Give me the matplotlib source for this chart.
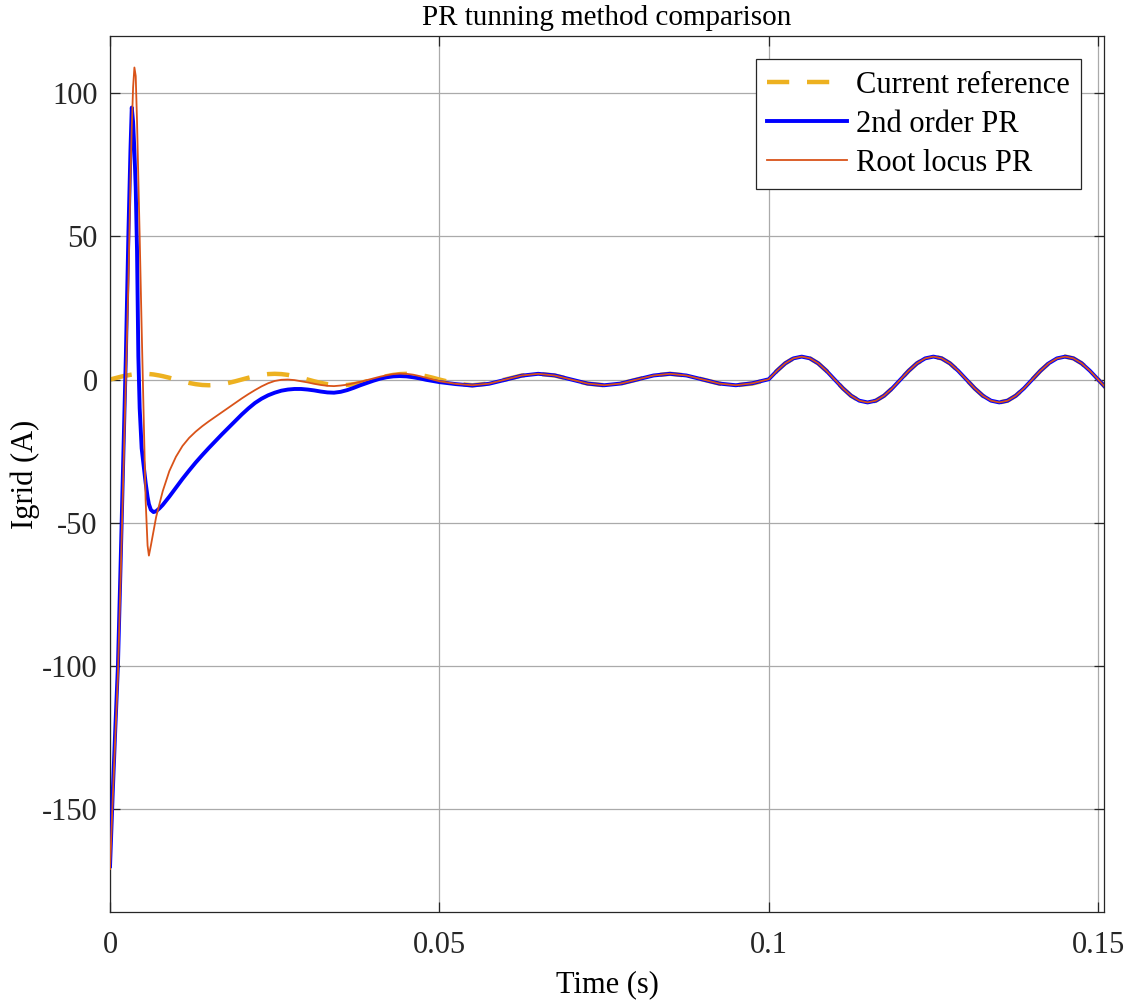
import matplotlib
matplotlib.use("Agg")
import matplotlib.pyplot as plt

# ---- data ----
time_transient = [0.0, 0.0004, 0.0008, 0.0012, 0.0016, 0.0020, 0.0024, 0.0028, 0.0031, 0.0033,
                  0.0035, 0.0037, 0.0039, 0.0041, 0.0043, 0.0045, 0.0048, 0.0051, 0.0054, 0.0057,
                  0.0059, 0.0062, 0.0066, 0.0070, 0.0075,
                  0.008, 0.009, 0.010, 0.011, 0.012, 0.013, 0.014, 0.015, 0.016, 0.017,
                  0.018, 0.019, 0.020, 0.021, 0.022, 0.023, 0.024, 0.025, 0.026, 0.027,
                  0.028, 0.029, 0.030, 0.031, 0.032, 0.033, 0.034, 0.035, 0.036, 0.037,
                  0.038, 0.039, 0.040, 0.041, 0.042, 0.043, 0.044, 0.045, 0.046, 0.047,
                  0.048, 0.049, 0.050]
ref_transient = [0.0, 0.25, 0.50, 0.74, 0.96, 1.18, 1.36, 1.53, 1.65, 1.72,
                 1.78, 1.84, 1.88, 1.92, 1.96, 1.98, 2.0, 2.0, 1.98, 1.96,
                 1.93, 1.87, 1.77, 1.62, 1.41,
                 1.18, 0.62, 0.0, -0.62, -1.18, -1.62, -1.90, -2.0, -1.90, -1.62,
                 -1.18, -0.62, 0.0, 0.62, 1.18, 1.62, 1.90, 2.0, 1.90, 1.62,
                 1.18, 0.62, 0.0, -0.62, -1.18, -1.62, -1.90, -2.0, -1.90, -1.62,
                 -1.18, -0.62, 0.0, 0.62, 1.18, 1.62, 1.90, 2.0, 1.90, 1.62,
                 1.18, 0.62, 0.0]
second_order_transient = [-170, -145, -122, -100, -65, -28, 8, 52, 80, 95,
                          90, 80, 67, 45, 8, -10, -24, -30, -36, -41,
                          -43.5, -45.5, -46.3, -46.0, -45.0,
                          -43.8, -40.9, -37.8, -34.7, -31.8, -29.0, -26.4, -23.9, -21.5, -19.1,
                          -16.8, -14.5, -12.2, -10.1, -8.2, -6.7, -5.5, -4.6, -3.9, -3.5,
                          -3.3, -3.3, -3.5, -3.8, -4.2, -4.5, -4.6, -4.3, -3.7, -2.9,
                          -2.0, -1.2, -0.4, 0.3, 0.8, 1.1, 1.2, 1.1, 0.8, 0.4,
                          -0.1, -0.5, -0.9]
root_locus_transient = [-171, -147, -125, -103, -70, -35, 0, 35, 70, 88,
                        102, 109, 106, 90, 70, 50, 18, -12, -42, -58,
                        -61.5, -58, -53, -48, -43.5,
                        -39, -32, -27, -23.2, -20.4, -18.2, -16.3, -14.6, -13.0, -11.4,
                        -9.8, -8.2, -6.6, -5.1, -3.7, -2.4, -1.3, -0.5, -0.1, 0.0,
                        -0.2, -0.6, -1.0, -1.5, -1.9, -2.2, -2.3, -2.1, -1.8, -1.3,
                        -0.8, -0.2, 0.4, 1.0, 1.5, 1.9, 2.1, 2.0, 1.7, 1.2,
                        0.6, 0.0, -0.6]

time_steady = [0.0525, 0.0550, 0.0575, 0.0600, 0.0625, 0.0650, 0.0675,
               0.0700, 0.0725, 0.0750, 0.0775, 0.0800, 0.0825, 0.0850, 0.0875,
               0.0900, 0.0925, 0.0950, 0.0975, 0.1000,
               0.10125, 0.1025, 0.10375, 0.1050, 0.10625, 0.1075, 0.10875,
               0.1100, 0.11125, 0.1125, 0.11375, 0.1150, 0.11625, 0.1175, 0.11875,
               0.1200, 0.12125, 0.1225, 0.12375, 0.1250, 0.12625, 0.1275, 0.12875,
               0.1300, 0.13125, 0.1325, 0.13375, 0.1350, 0.13625, 0.1375, 0.13875,
               0.1400, 0.14125, 0.1425, 0.14375, 0.1450, 0.14625, 0.1475, 0.14875,
               0.1500, 0.1514]
ref_steady = [-1.41, -2.0, -1.41, 0.0, 1.41, 2.0, 1.41,
              0.0, -1.41, -2.0, -1.41, 0.0, 1.41, 2.0, 1.41,
              0.0, -1.41, -2.0, -1.41, 0.0,
              3.06, 5.66, 7.39, 8.0, 7.39, 5.66, 3.06,
              0.0, -3.06, -5.66, -7.39, -8.0, -7.39, -5.66, -3.06,
              0.0, 3.06, 5.66, 7.39, 8.0, 7.39, 5.66, 3.06,
              0.0, -3.06, -5.66, -7.39, -8.0, -7.39, -5.66, -3.06,
              0.0, 3.06, 5.66, 7.39, 8.0, 7.39, 5.66, 3.06,
              0.0, -3.4]
second_order_steady = [-1.6, -2.1, -1.5, -0.1, 1.35, 2.0, 1.45,
                       0.0, -1.41, -2.0, -1.41, 0.0, 1.41, 2.0, 1.41,
                       0.0, -1.41, -2.0, -1.3, 0.1,
                       3.06, 5.66, 7.39, 8.0, 7.39, 5.66, 3.06,
                       0.0, -3.06, -5.66, -7.39, -8.0, -7.39, -5.66, -3.06,
                       0.0, 3.06, 5.66, 7.39, 8.0, 7.39, 5.66, 3.06,
                       0.0, -3.06, -5.66, -7.39, -8.0, -7.39, -5.66, -3.06,
                       0.0, 3.06, 5.66, 7.39, 8.0, 7.39, 5.66, 3.06,
                       0.0, -3.4]
root_locus_steady = [-1.5, -2.0, -1.45, 0.0, 1.41, 2.0, 1.41,
                     0.0, -1.41, -2.0, -1.41, 0.0, 1.41, 2.0, 1.41,
                     0.0, -1.41, -2.0, -1.3, 0.1,
                     3.06, 5.66, 7.39, 8.0, 7.39, 5.66, 3.06,
                     0.0, -3.06, -5.66, -7.39, -8.0, -7.39, -5.66, -3.06,
                     0.0, 3.06, 5.66, 7.39, 8.0, 7.39, 5.66, 3.06,
                     0.0, -3.06, -5.66, -7.39, -8.0, -7.39, -5.66, -3.06,
                     0.0, 3.06, 5.66, 7.39, 8.0, 7.39, 5.66, 3.06,
                     0.0, -3.4]

x_ticks = [0, 0.05, 0.1, 0.15]
x_tick_labels = ["0", "0.05", "0.1", "0.15"]
y_ticks = [-150, -100, -50, 0, 50, 100]
y_tick_labels = ["-150", "-100", "-50", "0", "50", "100"]
series_labels = ["Current reference", "2nd order PR", "Root locus PR"]

# ---- plot ----
plt.rcParams['font.family'] = ['Liberation Serif', 'DejaVu Serif']

time_all = time_transient + time_steady
ref_all = ref_transient + ref_steady
so_all = second_order_transient + second_order_steady
rl_all = root_locus_transient + root_locus_steady

fig = plt.figure(figsize=(11.32, 10.05), dpi=100)
ax = fig.add_axes([0.0972, 0.0925, 0.8781, 0.8717])

ax.plot(time_all, ref_all, color='#EDB120', linewidth=3.2, dashes=(5, 4),
        label=series_labels[0], zorder=2)
ax.plot(time_all, so_all, color='#0000FF', linewidth=2.8,
        label=series_labels[1], zorder=3)
ax.plot(time_all, rl_all, color='#D95319', linewidth=1.3,
        label=series_labels[2], zorder=4)

ax.set_xlim(0, 0.1509)
ax.set_ylim(-186, 120)
ax.set_xticks(x_ticks)
ax.set_xticklabels(x_tick_labels)
ax.set_yticks(y_ticks)
ax.set_yticklabels(y_tick_labels)

ax.grid(True, color='#aaaaaa', linewidth=0.9)
ax.set_axisbelow(True)
for s in ax.spines.values():
    s.set_color('#262626')
    s.set_linewidth(0.9)
ax.tick_params(direction='in', length=7, width=0.9, color='#262626',
               top=True, right=True, labelsize=22, labelcolor='#262626')
ax.tick_params(axis='x', pad=14)
ax.tick_params(axis='y', pad=9)

ax.set_title("PR tunning method comparison", fontsize=21, pad=8, color='#000000')
ax.set_xlabel("Time (s)", fontsize=22, labelpad=7)
ax.set_ylabel("Igrid (A)", fontsize=22, labelpad=1)

leg = ax.legend(loc='upper right', fontsize=22, frameon=True, fancybox=False,
                edgecolor='#262626', framealpha=1, handlelength=2.6,
                borderpad=0.38, labelspacing=0.33, handletextpad=0.3,
                borderaxespad=0.75)
leg.get_frame().set_linewidth(0.9)

fig.savefig("out.png", dpi=100)
